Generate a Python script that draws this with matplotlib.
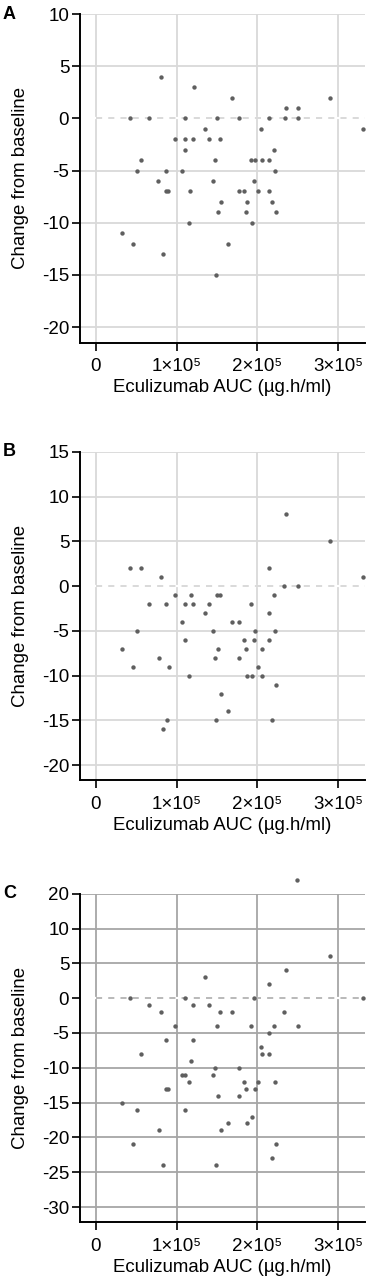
import numpy as np
import matplotlib
matplotlib.use("Agg")
import matplotlib.pyplot as plt

plt.rcParams['font.family'] = ['Liberation Sans', 'DejaVu Sans']

# Panel A: AUC (x1e5) and change from baseline
auc_a = [0.809, 1.213, 1.688, 2.897, 2.352, 2.497,
         0.421, 0.664, 1.110, 1.506, 1.766, 2.142, 2.336, 2.505,
         3.302, 1.354, 2.047,
         0.986, 1.110, 1.201, 1.407, 1.531,
         1.106, 2.208,
         0.557, 1.473, 1.915, 1.969, 2.055, 2.146,
         0.508, 0.871, 1.065, 2.216,
         0.776, 1.453, 1.960,
         0.875, 0.900, 1.172, 1.766, 1.832, 2.002, 2.146,
         1.548, 1.870, 2.183,
         1.515, 1.857, 2.233,
         1.156, 1.931,
         0.322, 0.458, 1.630, 0.834, 1.482]
chg_a = [4, 3, 2, 2, 1, 1,
         0, 0, 0, 0, 0, 0, 0, 0,
         -1, -1, -1,
         -2, -2, -2, -2, -2,
         -3, -3,
         -4, -4, -4, -4, -4, -4,
         -5, -5, -5, -5,
         -6, -6, -6,
         -7, -7, -7, -7, -7, -7, -7,
         -8, -8, -8,
         -9, -9, -9,
         -10, -10,
         -11, -12, -12, -13, -15]

# Panel B
auc_b = [2.348, 2.897, 0.421, 0.557, 2.142, 0.809, 3.302, 2.332, 2.497,
         0.986, 1.176, 1.506, 1.535, 2.208,
         0.664, 0.871, 1.110, 1.201, 1.407, 1.919,
         1.354, 2.142,
         1.065, 1.688, 1.766,
         0.508, 1.453, 1.964, 2.216,
         1.106, 1.832, 1.960, 2.142,
         0.322, 1.515, 2.059, 1.857,
         0.780, 1.473, 1.766,
         0.458, 0.908, 2.002,
         1.156, 1.870, 1.931, 2.051,
         2.233, 1.552, 1.630, 0.887, 1.482, 2.183, 0.834]
chg_b = [8, 5, 2, 2, 2, 1, 1, 0, 0,
         -1, -1, -1, -1, -1,
         -2, -2, -2, -2, -2, -2,
         -3, -3,
         -4, -4, -4,
         -5, -5, -5, -5,
         -6, -6, -6, -6,
         -7, -7, -7, -7,
         -8, -8, -8,
         -9, -9, -9,
         -10, -10, -10, -10,
         -11, -12, -14, -15, -15, -15, -16]

# Panel C
auc_c = [2.493, 2.897, 2.348, 1.354, 2.142,
         0.421, 1.110, 1.956, 3.302,
         0.664, 1.209, 1.407,
         0.809, 1.535, 1.688, 2.332,
         0.986, 1.506, 1.919, 2.208, 2.505,
         2.142, 0.871, 1.201, 2.047,
         0.557, 2.055, 2.146, 1.176,
         1.473, 1.766,
         1.065, 1.110, 1.453,
         1.156, 1.832, 2.002, 2.216,
         0.875, 0.900, 1.857, 1.969,
         1.515, 1.766, 0.322, 0.508, 1.106, 1.931,
         1.630, 1.870, 0.780, 1.548,
         0.458, 2.233, 2.183, 0.834, 1.482]
chg_c = [22, 6, 4, 3, 2,
         0, 0, 0, 0,
         -1, -1, -1,
         -2, -2, -2, -2,
         -4, -4, -4, -4, -4,
         -5, -6, -6, -7,
         -8, -8, -8, -9,
         -10, -10,
         -11, -11, -11,
         -12, -12, -12, -12,
         -13, -13, -13, -13,
         -14, -14, -15, -16, -16, -17,
         -18, -18, -19, -19,
         -21, -21, -23, -24, -24]

x_ticks = [0, 1e5, 2e5, 3e5]
x_ticklabels = ["0", "1×10⁵", "2×10⁵", "3×10⁵"]


# panel C has a broken axis: 10..20 squeezed to half
def c_fwd(y):
    y = np.asarray(y, dtype=float)
    return np.where(y <= 10, y, np.where(y <= 20, 10 + (y - 10) / 2, y - 5))


def c_inv(v):
    v = np.asarray(v, dtype=float)
    return np.where(v <= 10, v, np.where(v <= 15, 10 + (v - 10) * 2, v + 5))


fig = plt.figure(figsize=(3.69, 12.86), dpi=100)

panels = [
    ("A", auc_a, chg_a, (0.2177, 0.7335), (-21.5, 10), [10, 5, 0, -5, -10, -15, -20], "#d9d9d9", "#cfcfcf"),
    ("B", auc_b, chg_b, (0.2177, 0.3932), (-21.7, 15), [15, 10, 5, 0, -5, -10, -15, -20], "#d9d9d9", "#cfcfcf"),
    ("C", auc_c, chg_c, (0.2177, 0.0495), (-32.2, 20), [20, 10, 5, 0, -5, -10, -15, -20, -25, -30], "#a6a6a6", "#a6a6a6"),
]

for name, xs, ys, (left, bottom), ylim, yticks, gcol, zcol in panels:
    ax = fig.add_axes([left, bottom, 0.7715, 0.2555])
    if name == "C":
        ax.set_yscale("function", functions=(c_fwd, c_inv))
    x = np.array(xs) * 1e5
    ax.set_xlim(-0.19e5, 3.33e5)
    ax.set_ylim(*ylim)
    for t in x_ticks:
        ax.axvline(t, color=gcol, lw=1.3, zorder=0)
    for t in yticks:
        ax.axhline(t, color=gcol, lw=1.3, zorder=0)
    ax.axhline(0, color="white", lw=1.6, zorder=0.5)
    ax.plot([0.006e5, 3.33e5], [0, 0], color=zcol, lw=1.1, ls=(0, (4, 4)), zorder=1)
    ax.scatter(x, ys, s=10, color="#5f5f5f", linewidths=0, zorder=3, clip_on=False)

    ax.set_xticks(x_ticks)
    ax.set_xticklabels(x_ticklabels)
    ax.set_yticks(yticks)
    ax.set_yticklabels([str(t) for t in yticks])
    ax.tick_params(direction="out", length=6, width=1.2, labelsize=13.5, pad=2)
    ax.tick_params(axis="x", pad=5)
    for s in ["top", "right"]:
        ax.spines[s].set_visible(False)
    for s in ["left", "bottom"]:
        ax.spines[s].set_linewidth(1.4)
    ax.set_xlabel("Eculizumab AUC (µg.h/ml)", fontsize=13.4, labelpad=3)
    ax.set_ylabel("Change from baseline", fontsize=13.4, labelpad=9)
    ax.set_facecolor("white")
    ax.text(-0.272, 1.0, name, transform=ax.transAxes, fontsize=13, fontweight="bold",
            ha="left", va="center")

fig.savefig("out.png", dpi=100)
